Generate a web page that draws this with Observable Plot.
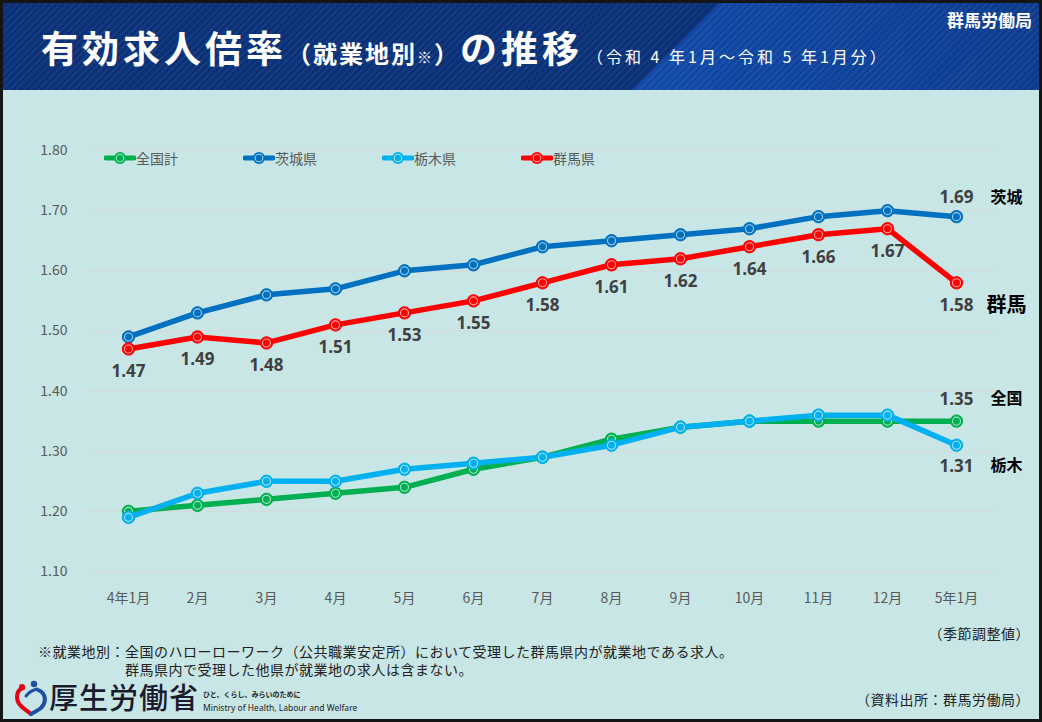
<!DOCTYPE html>
<html><head><meta charset="utf-8">
<script src="https://cdn.jsdelivr.net/npm/d3@7"></script>
<script src="https://cdn.jsdelivr.net/npm/@observablehq/plot@0.6"></script>
<style>
html,body{margin:0;padding:0;background:#fff;}
#frame{position:relative;width:1042px;height:722px;background:#C8E6E6;overflow:hidden;font-family:"Noto Sans CJK JP","Noto Sans",sans-serif;}
#border{position:absolute;left:0;top:0;width:1042px;height:722px;box-sizing:border-box;border:3px solid #151515;pointer-events:none;z-index:10;}
#header{position:absolute;left:3px;top:3px;width:1036px;height:87px;background:#0a3078;overflow:hidden;}
#header .light{position:absolute;left:0;top:0;width:100%;height:100%;background:linear-gradient(90deg,#124cae 0%,#1049a8 62%,#0c3b8e 100%);clip-path:polygon(717px 0,100% 0,100% 100%,630px 100%);}
#header .stripes{position:absolute;left:0;top:0;width:100%;height:100%;background:repeating-linear-gradient(135deg,rgba(255,255,255,0.055) 0px,rgba(255,255,255,0.055) 2px,rgba(0,0,0,0) 2px,rgba(0,0,0,0) 5px);}
#title{position:absolute;left:41px;top:22px;white-space:nowrap;color:#fff;font-weight:700;line-height:50px;}
#title .big{font-size:37px;letter-spacing:4px;}
#title .mid{font-size:24px;letter-spacing:2px;}
#title .sm{font-size:16px;font-weight:400;letter-spacing:3px;margin-left:4px;}
#org{position:absolute;right:7px;top:5px;color:#fff;font-weight:700;font-size:17px;line-height:24px;}
#chart{position:absolute;left:0;top:90px;}
#legend{position:absolute;top:148px;left:0;height:18px;}
.lg{position:absolute;top:0;display:flex;align-items:center;font-size:14px;color:#595959;white-space:nowrap;}
.ft{position:absolute;font-size:14px;color:#222;white-space:nowrap;line-height:16px;letter-spacing:0.5px;}
#logo{position:absolute;left:14px;top:680px;}
#logotext{position:absolute;left:49px;top:678px;font-size:29px;font-weight:500;color:#1b1b2e;line-height:36px;letter-spacing:1px;}
#logosub1{position:absolute;left:203px;top:690px;font-size:7px;font-weight:700;color:#222;line-height:8px;}
#logosub2{position:absolute;left:203px;top:703px;font-size:8.5px;font-family:"Noto Sans",sans-serif;color:#222;line-height:10px;}
</style>
</head><body>
<div id="frame">
  <div id="header"><div class="light"></div><div class="stripes"></div>
    <div id="org">群馬労働局</div>
  </div>
  <div id="title"><span class="big">有効求人倍率</span><span class="mid">（就業地別<span style="font-size:15px">※</span>）</span><span class="big">の推移</span><span class="sm">（令和 4 年1月～令和 5 年1月分）</span></div>
  <div id="chart"></div>
  <div id="legend"></div>
  <div class="ft" style="right:12px;top:625px;">（季節調整値）</div>
  <div class="ft" style="left:38px;top:643px;">※就業地別：全国のハローローワーク（公共職業安定所）において受理した群馬県内が就業地である求人。</div>
  <div class="ft" style="left:125px;top:661px;">群馬県内で受理した他県が就業地の求人は含まない。</div>
  <svg id="logo" width="34" height="36" viewBox="0 0 34 36">
    <path d="M9 8 C2 10,1 20,7 26 C11 30,15 32,17 34" fill="none" stroke="#e60012" stroke-width="4" stroke-linecap="round"/>
    <path d="M24 10 C32 13,33 22,27 28 C23 31,19 33,17 34" fill="none" stroke="#1d50a2" stroke-width="4" stroke-linecap="round"/>
    <circle cx="8" cy="7" r="3" fill="#e60012"/>
    <circle cx="20" cy="4" r="3.2" fill="#1d50a2"/>
    <path d="M12 16 C15 12,19 10,23 9" fill="none" stroke="#1d50a2" stroke-width="3" stroke-linecap="round"/>
  </svg>
  <div id="logotext">厚生労働省</div>
  <div id="logosub1">ひと、くらし、みらいのために</div>
  <div id="logosub2">Ministry of Health, Labour and Welfare</div>
  <div class="ft" style="right:12px;top:691px;">（資料出所：群馬労働局）</div>
  <div id="border"></div>
</div>
<script>
// ---- data ----
const months = ["4年1月","2月","3月","4月","5月","6月","7月","8月","9月","10月","11月","12月","5年1月"];
const seriesNames = ["全国計","茨城県","栃木県","群馬県"];
const endNames = ["全国","茨城","栃木","群馬"];
const national = [1.20,1.21,1.22,1.23,1.24,1.27,1.29,1.32,1.34,1.35,1.35,1.35,1.35];
const ibaraki  = [1.49,1.53,1.56,1.57,1.60,1.61,1.64,1.65,1.66,1.67,1.69,1.70,1.69];
const tochigi  = [1.19,1.23,1.25,1.25,1.27,1.28,1.29,1.31,1.34,1.35,1.36,1.36,1.31];
const gunma    = [1.47,1.49,1.48,1.51,1.53,1.55,1.58,1.61,1.62,1.64,1.66,1.67,1.58];
const yTicks = [1.10,1.20,1.30,1.40,1.50,1.60,1.70,1.80];

// ---- styling ----
const seriesColors = ["#00B050","#0070C0","#00B0F0","#FF0000"];
const lastLabelDy = [-22,-19,21,23];
const endNameSize = [16,16,16,20];

const seriesValues = [national, ibaraki, tochigi, gunma];
const table = seriesValues.map((vals,i)=>vals.map((v,j)=>({series:seriesNames[i], month:months[j], value:v})));

const numFont = "'Open Sans','Noto Sans',sans-serif";
const cjkFont = "'Noto Sans CJK JP','Noto Sans',sans-serif";

const marks = [Plot.ruleY(yTicks, {stroke:"#D9D9D9", strokeWidth:1})];
table.forEach((rows,i)=>{
  const c = seriesColors[i];
  marks.push(Plot.line(rows, {x:"month", y:"value", stroke:c, strokeWidth:5.5, strokeLinejoin:"round", strokeLinecap:"round"}));
  marks.push(Plot.dot(rows, {x:"month", y:"value", r:6.2, fill:c, stroke:c, strokeWidth:1}));
  marks.push(Plot.dot(rows, {x:"month", y:"value", r:4, fill:"none", stroke:"white", strokeOpacity:0.65, strokeWidth:1.1}));
});
// Gunma labels on all points
marks.push(Plot.text(table[3], {x:"month", y:"value", text:d=>d.value.toFixed(2), dy:23, fill:"#404040", fontSize:17, fontWeight:"bold", fontFamily:numFont}));
// last-point labels for the other series + end names
table.forEach((rows,i)=>{
  const last = [rows[rows.length-1]];
  if (i !== 3) marks.push(Plot.text(last, {x:"month", y:"value", text:d=>d.value.toFixed(2), dy:lastLabelDy[i], fill:"#404040", fontSize:17, fontWeight:"bold", fontFamily:numFont}));
  marks.push(Plot.text(last, {x:"month", y:"value", text:()=>endNames[i], dx:50, dy:lastLabelDy[i], fill:"#000", fontSize:endNameSize[i], fontWeight:"bold", fontFamily:cjkFont}));
});

const plot = Plot.plot({
  width:1042, height:530,
  marginTop:60, marginBottom:49, marginLeft:88, marginRight:46,
  x:{type:"point", domain:months, padding:0.5, tickSize:0, tickPadding:22, label:null},
  y:{domain:[1.10,1.80], ticks:yTicks, tickFormat:d=>d.toFixed(2), tickSize:0, tickPadding:21, label:null},
  style:{background:"transparent", color:"#595959", fontFamily:cjkFont, fontSize:"14px", overflow:"visible"},
  marks
});
document.getElementById("chart").appendChild(plot);

// ---- legend ----
const legendX = [104,243,382,521];
const legend = d3.select("#legend");
seriesNames.forEach((name,i)=>{
  const item = legend.append("div").attr("class","lg").style("left", legendX[i]+"px");
  const s = item.append("svg").attr("width",32).attr("height",18);
  s.append("line").attr("x1",2).attr("x2",30).attr("y1",9).attr("y2",9).attr("stroke",seriesColors[i]).attr("stroke-width",5).attr("stroke-linecap","round");
  s.append("circle").attr("cx",16).attr("cy",9).attr("r",6).attr("fill",seriesColors[i]);
  s.append("circle").attr("cx",16).attr("cy",9).attr("r",3.8).attr("fill","none").attr("stroke","white").attr("stroke-opacity",0.65).attr("stroke-width",1.1);
  item.append("span").text(name);
});
</script>
</body></html>
